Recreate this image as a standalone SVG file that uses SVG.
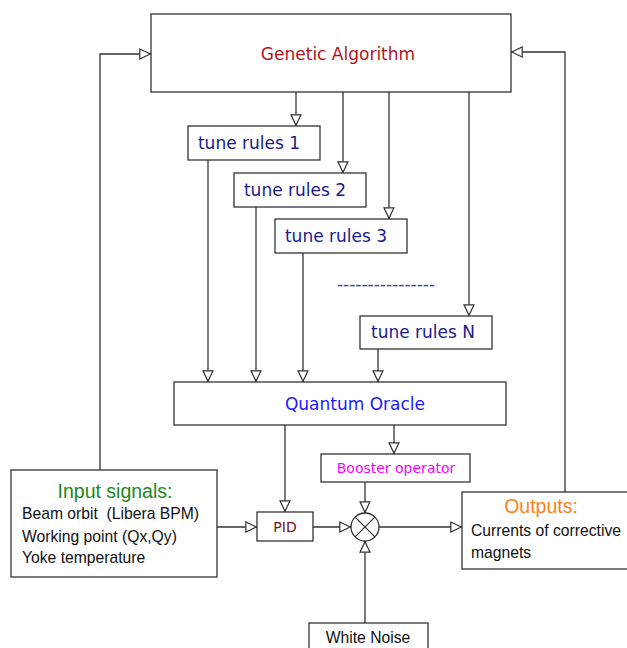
<svg xmlns="http://www.w3.org/2000/svg" width="627" height="648" viewBox="0 0 627 648">
<style>
.box{fill:#fff;stroke:#333;stroke-width:1.3}
.ln{fill:none;stroke:#333;stroke-width:1.3;marker-end:url(#arr)}
.ln2{fill:none;stroke:#333;stroke-width:1.3}
.dv{font-family:"DejaVu Sans",sans-serif;font-size:17px}
.ls{font-family:"Liberation Sans",Arial,sans-serif;font-size:15.7px;white-space:pre}
</style>
<defs>
<marker id="arr" viewBox="0 0 12 12" refX="12" refY="6" markerWidth="12" markerHeight="12" markerUnits="userSpaceOnUse" orient="auto">
<path d="M0.8,1 L11.3,6 L0.8,11 Z" fill="#fff" stroke="#333" stroke-width="1.2"/>
</marker>
</defs>
<rect width="627" height="648" fill="#fff"/>
<g id="connectors">
<path class="ln" d="M296,92 V126"/>
<path class="ln" d="M343,92 V173"/>
<path class="ln" d="M389,92 V219"/>
<path class="ln" d="M469,92 V316"/>
<path class="ln" d="M208,160 V382"/>
<path class="ln" d="M256,207 V382"/>
<path class="ln" d="M303,253 V382"/>
<path class="ln" d="M378,349 V382"/>
<path class="ln" d="M285,425 V512"/>
<path class="ln" d="M394,425 V454"/>
<path class="ln" d="M365,482 V513"/>
<path class="ln" d="M217,527 H257"/>
<path class="ln" d="M313,527 H351"/>
<path class="ln" d="M379,527 H462"/>
<path class="ln" d="M365,623 V541"/>
<path class="ln" d="M100,470 V54 H151"/>
<path class="ln" d="M565,492 V52 H511"/>
</g>
<g id="genetic-algorithm">
<rect class="box" x="151" y="14" width="360" height="78"/>
<text class="dv" x="338" y="60" text-anchor="middle" fill="#b3131b">Genetic Algorithm</text>
</g>
<g id="tune-rules-1">
<rect class="box" x="188" y="126" width="132" height="34"/>
<text class="dv" x="249" y="149" text-anchor="middle" fill="#1a1a8c">tune rules 1</text>
</g>
<g id="tune-rules-2">
<rect class="box" x="234" y="173" width="132" height="34"/>
<text class="dv" x="295" y="196" text-anchor="middle" fill="#1a1a8c">tune rules 2</text>
</g>
<g id="tune-rules-3">
<rect class="box" x="275" y="219" width="132" height="34"/>
<text class="dv" x="336" y="242" text-anchor="middle" fill="#1a1a8c">tune rules 3</text>
</g>
<g id="ellipsis">
<text class="dv" x="386" y="290" text-anchor="middle" fill="#3a3ab0">----------------</text>
</g>
<g id="tune-rules-n">
<rect class="box" x="360" y="316" width="132" height="33"/>
<text class="dv" x="423" y="338" text-anchor="middle" fill="#1a1a8c">tune rules N</text>
</g>
<g id="quantum-oracle">
<rect class="box" x="174" y="382" width="332" height="43"/>
<text class="dv" x="355" y="410" text-anchor="middle" fill="#1a1aff">Quantum Oracle</text>
</g>
<g id="booster-operator">
<rect class="box" x="321" y="454" width="149" height="28"/>
<text class="dv" x="396" y="473" text-anchor="middle" fill="#ff00ff" style="font-size:14px">Booster operator</text>
</g>
<g id="pid">
<rect class="box" x="257" y="512" width="56" height="29"/>
<text class="dv" x="285" y="532" text-anchor="middle" fill="#7a1010" style="font-size:14px">PID</text>
</g>
<g id="mixer">
<circle cx="365" cy="527" r="14" fill="#fff" stroke="#333" stroke-width="1.3"/>
<path class="ln2" d="M355.1,517.1 L374.9,536.9 M374.9,517.1 L355.1,536.9"/>
</g>
<g id="input-signals">
<rect class="box" x="11" y="470" width="206" height="107"/>
<text class="ls" x="115" y="498" text-anchor="middle" style="font-size:19.5px;fill:#1a8a1a">Input signals:</text>
<text class="ls" x="22" y="519" fill="#111">Beam orbit  (Libera BPM)</text>
<text class="ls" x="22" y="542" fill="#111">Working point (Qx,Qy)</text>
<text class="ls" x="22" y="563" fill="#111">Yoke temperature</text>
</g>
<g id="outputs">
<rect class="box" x="462" y="492" width="170" height="77"/>
<text class="ls" x="541" y="513" text-anchor="middle" style="font-size:19.5px;fill:#ff7f1a">Outputs:</text>
<text class="ls" x="471" y="536" fill="#111">Currents of corrective</text>
<text class="ls" x="471" y="558" fill="#111">magnets</text>
</g>
<g id="white-noise">
<rect class="box" x="309" y="623" width="119" height="30"/>
<text class="ls" x="368" y="643" text-anchor="middle" fill="#111">White Noise</text>
</g>
</svg>
